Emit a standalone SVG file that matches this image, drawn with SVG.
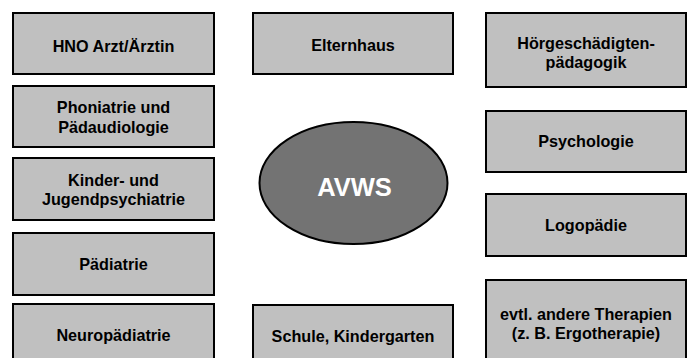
<svg xmlns="http://www.w3.org/2000/svg" width="688" height="358" viewBox="0 0 688 358">
<style>
.box{fill:#c0c0c0;stroke:#000;stroke-width:2}
.t{font-family:"Liberation Sans",Arial,sans-serif;font-weight:bold;font-size:16.2px;fill:#000;text-anchor:middle}
.c{font-family:"Liberation Sans",Arial,sans-serif;font-weight:bold;font-size:25.5px;fill:#fff;text-anchor:middle}
</style>
<rect width="688" height="358" fill="#fff"/>
<g id="connectors"></g>
<g id="hno"><rect class="box" x="13" y="13" width="201" height="61"/><text class="t" x="113.5" y="52">HNO Arzt/Ärztin</text></g>
<g id="phoniatrie"><rect class="box" x="13" y="86" width="201" height="61"/><text class="t" x="113.5" y="113">Phoniatrie und</text><text class="t" x="113.5" y="132.5">Pädaudiologie</text></g>
<g id="kinder"><rect class="box" x="13" y="158" width="201" height="62"/><text class="t" x="113.5" y="186">Kinder- und</text><text class="t" x="113.5" y="205">Jugendpsychiatrie</text></g>
<g id="paediatrie"><rect class="box" x="13" y="233" width="201" height="62"/><text class="t" x="113.5" y="270">Pädiatrie</text></g>
<g id="neuro"><rect class="box" x="13" y="304" width="201" height="70"/><text class="t" x="113.5" y="341">Neuropädiatrie</text></g>
<g id="elternhaus"><rect class="box" x="253" y="13" width="200" height="61"/><text class="t" x="353" y="51">Elternhaus</text></g>
<g id="avws"><ellipse cx="353.5" cy="183" rx="94" ry="61" fill="#737373" stroke="#000" stroke-width="2"/><text class="c" x="354.5" y="196">AVWS</text></g>
<g id="schule"><rect class="box" x="253" y="305" width="200" height="70"/><text class="t" x="353" y="341.5">Schule, Kindergarten</text></g>
<g id="hoergeschaedigten"><rect class="box" x="486" y="13" width="200" height="74"/><text class="t" x="586" y="49">Hörgeschädigten-</text><text class="t" x="586" y="68">pädagogik</text></g>
<g id="psychologie"><rect class="box" x="486" y="111" width="200" height="61"/><text class="t" x="586" y="147">Psychologie</text></g>
<g id="logopaedie"><rect class="box" x="486" y="194" width="200" height="62"/><text class="t" x="586" y="231">Logopädie</text></g>
<g id="therapien"><rect class="box" x="486" y="280" width="200" height="95"/><text class="t" x="586" y="319.5">evtl. andere Therapien</text><text class="t" x="586" y="338.5">(z. B. Ergotherapie)</text></g>
</svg>
